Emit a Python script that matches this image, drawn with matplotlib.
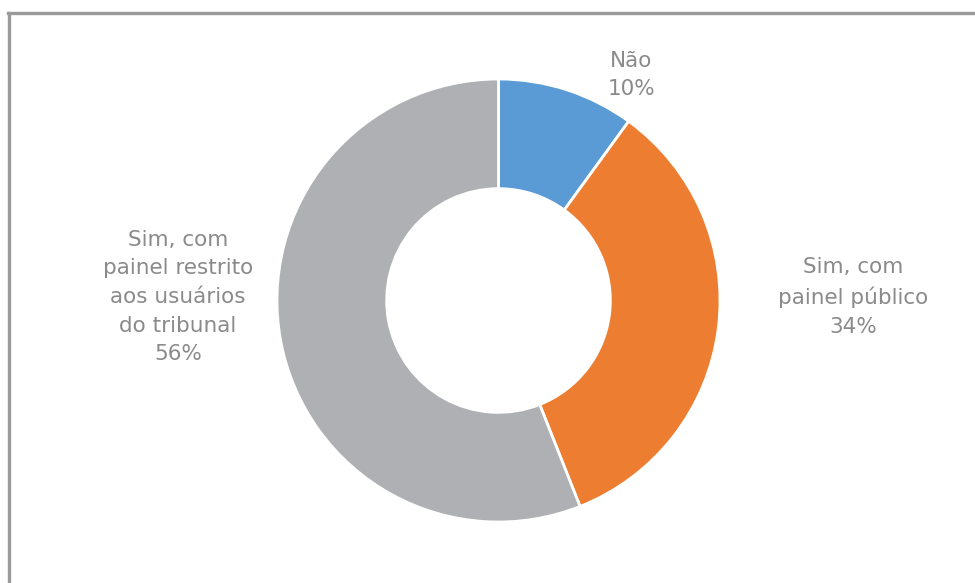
import matplotlib.pyplot as plt
from matplotlib.lines import Line2D

# data
categories = ["Não", "Sim, com\npainel público", "Sim, com\npainel restrito\naos usuários\ndo tribunal"]
values = [10, 34, 56]
colors = ["#5B9BD5", "#ED7D31", "#AFB0B3"]

W, H = 975, 583
fig = plt.figure(figsize=(W / 100, H / 100), dpi=100)
ax = fig.add_axes([0, 0, 1, 1])

cx, cy, r = 498.5, H - 300.5, 221.5
ax.pie(values, colors=colors, startangle=90, counterclock=False,
       center=(cx, cy), radius=r, frame=True,
       wedgeprops=dict(width=r * 0.495, edgecolor="white", linewidth=2))
ax.set_xlim(0, W)
ax.set_ylim(0, H)
ax.set_aspect("equal")
ax.axis("off")

# label positions (pixels from top-left)
label_pos = [(631, 75), (853, 297), (178, 297)]
for cat, v, (lx, ly) in zip(categories, values, label_pos):
    ax.text(lx, H - ly, f"{cat}\n{v}%", ha="center", va="center",
            fontsize=15.5, color="#8A8A8A", family="DejaVu Sans", linespacing=1.54)

# chart border (only top and left visible)
c = "#9A9A9A"
fig.add_artist(Line2D([8 / W, 1], [1 - 13 / H, 1 - 13 / H], color=c, lw=2.4, transform=fig.transFigure))
fig.add_artist(Line2D([9 / W, 9 / W], [0, 1 - 13 / H], color=c, lw=2.4, transform=fig.transFigure))

fig.savefig("out.png", dpi=100)
